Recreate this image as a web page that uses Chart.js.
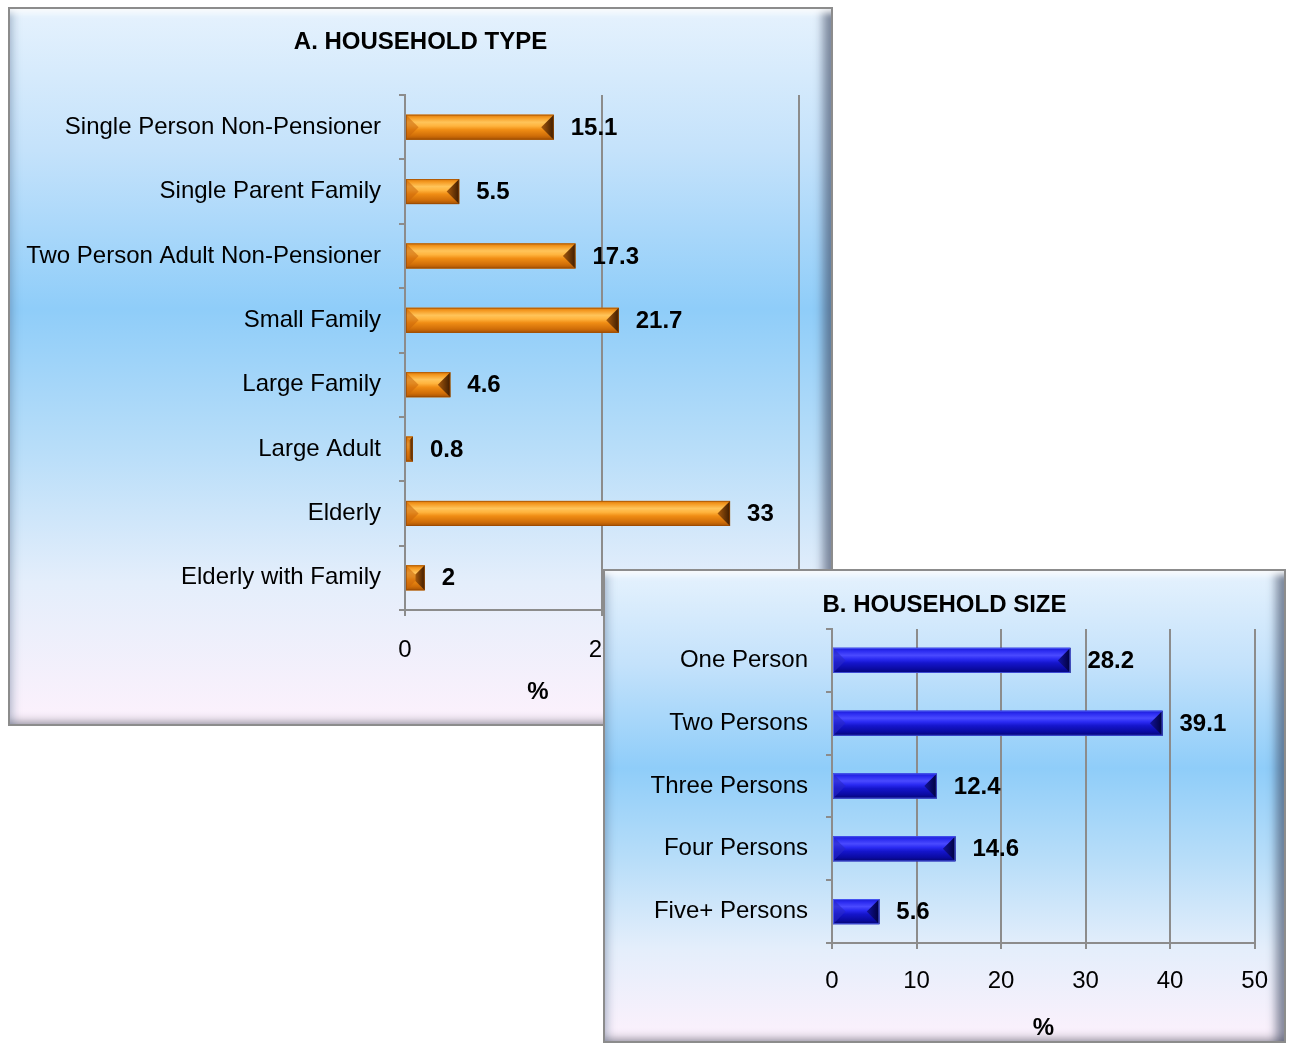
<!DOCTYPE html>
<html>
<head>
<meta charset="utf-8">
<script src="https://cdn.jsdelivr.net/npm/chart.js@4"></script>
<style>
    html, body { margin: 0; padding: 0; background: #ffffff; }
    body { width: 1290px; height: 1044px; position: relative; overflow: hidden; }
    .panel {
        position: absolute;
        background: linear-gradient(to bottom, #e6f2fd 0%, #c4e2fb 20%, #8fcdf9 42%, #b9def9 62%, #e4eefb 80%, #fdf1fc 100%);
        box-shadow:
            inset 0 0 0 2px #8c8c8c,
            inset 0 10px 6px -4px rgba(255, 255, 255, 0.9),
            inset -14px 0 10px -4px rgba(60, 70, 95, 0.6),
            inset 9px 0 8px -4px rgba(70, 95, 130, 0.35),
            inset 0 -9px 8px -4px rgba(90, 90, 105, 0.5);
    }
    #panelA { left: 8px; top: 7px; width: 825px; height: 719px; z-index: 1; }
    #panelB { left: 603px; top: 569px; width: 683px; height: 474px; z-index: 2; }
    canvas { position: absolute; left: 0; top: 0; }
</style>
</head>
<body>
<div class="panel" id="panelA"><canvas id="chartA" width="825" height="719"></canvas></div>
<div class="panel" id="panelB"><canvas id="chartB" width="683" height="474"></canvas></div>

<script>
// ========================================
// データ
// ========================================

const typeLabels = [
    'Single Person Non-Pensioner',
    'Single Parent Family',
    'Two Person Adult Non-Pensioner',
    'Small Family',
    'Large Family',
    'Large Adult',
    'Elderly',
    'Elderly with Family'
];
const typeValues = [15.1, 5.5, 17.3, 21.7, 4.6, 0.8, 33, 2];

const sizeLabels = ['One Person', 'Two Persons', 'Three Persons', 'Four Persons', 'Five+ Persons'];
const sizeValues = [28.2, 39.1, 12.4, 14.6, 5.6];

const typeAxisMax = 40;
const typeAxisStep = 20;
const sizeAxisMax = 50;
const sizeAxisStep = 10;

const FONT = '"Liberation Sans", Arial, sans-serif';
const GRID = '#8c8c8c';

// ========================================
// 面取りバー + 値ラベル プラグイン
// ========================================

const bevelBars = {
    id: 'bevelBars',
    afterDatasetsDraw(chart, args, opts) {
        const ctx = chart.ctx;
        const meta = chart.getDatasetMeta(0);
        const values = chart.data.datasets[0].data;

        meta.data.forEach((bar, i) => {
            const p = bar.getProps(['x', 'y', 'base', 'height'], true);
            const left = Math.min(p.base, p.x);
            const right = Math.max(p.base, p.x);
            const top = p.y - p.height / 2;
            const bot = p.y + p.height / 2;
            const b = Math.min(p.height / 2, (right - left) / 2);

            ctx.save();

            // 本体
            const g = ctx.createLinearGradient(0, top, 0, bot);
            opts.body.forEach(s => g.addColorStop(s[0], s[1]));
            ctx.fillStyle = g;
            ctx.fillRect(left, top, right - left, bot - top);

            // 左端
            ctx.beginPath();
            ctx.moveTo(left, top);
            ctx.lineTo(left + b, top + b);
            ctx.lineTo(left + b, bot - b);
            ctx.lineTo(left, bot);
            ctx.closePath();
            ctx.fillStyle = opts.leftCap;
            ctx.fill();

            // 右端
            const rg = ctx.createLinearGradient(right - b, 0, right, 0);
            rg.addColorStop(0, opts.rightCap[0]);
            rg.addColorStop(1, opts.rightCap[1]);
            ctx.beginPath();
            ctx.moveTo(right, top);
            ctx.lineTo(right - b, top + b);
            ctx.lineTo(right - b, bot - b);
            ctx.lineTo(right, bot);
            ctx.closePath();
            ctx.fillStyle = rg;
            ctx.fill();

            ctx.strokeStyle = opts.edge;
            ctx.lineWidth = 1;
            ctx.strokeRect(left + 0.5, top + 0.5, right - left - 1, bot - top - 1);

            // 値ラベル
            ctx.fillStyle = '#000000';
            ctx.font = 'bold 24px ' + FONT;
            ctx.textAlign = 'left';
            ctx.textBaseline = 'middle';
            ctx.fillText(String(values[i]), right + 17, p.y + 1);

            ctx.restore();
        });
    }
};

// パネルタイトルと軸の単位 (%)
const panelText = {
    id: 'panelText',
    afterDraw(chart, args, opts) {
        const ctx = chart.ctx;
        const area = chart.chartArea;
        ctx.save();
        ctx.fillStyle = '#000000';
        ctx.font = 'bold 24px ' + FONT;
        ctx.textAlign = 'center';
        ctx.textBaseline = 'middle';
        // タイトルはパネル中央
        ctx.fillText(opts.title, chart.width / 2, opts.titleY);
        ctx.fillText(opts.unit, (area.left + area.right) / 2 + opts.unitDx, area.bottom + opts.unitDy);
        ctx.restore();
    }
};

// ========================================
// チャート作成
// ========================================

function makeChart(canvasId, cfg) {
    const ctx = document.getElementById(canvasId).getContext('2d');
    return new Chart(ctx, {
        type: 'bar',
        data: {
            labels: cfg.labels,
            datasets: [{
                data: cfg.values,
                backgroundColor: cfg.color,
                borderWidth: 0,
                barPercentage: cfg.barPct,
                categoryPercentage: 1
            }]
        },
        plugins: [bevelBars, panelText],
        options: {
            indexAxis: 'y',
            responsive: false,
            animation: false,
            devicePixelRatio: 1,
            layout: {
                padding: { left: 0, right: cfg.padRight, top: cfg.padTop, bottom: 0 }
            },
            plugins: {
                legend: { display: false },
                tooltip: { enabled: false },
                title: { display: false },
                bevelBars: cfg.bevel,
                panelText: {
                    title: cfg.title,
                    titleY: cfg.titleY,
                    unit: '%',
                    unitDx: cfg.unitDx,
                    unitDy: cfg.unitDy
                }
            },
            scales: {
                x: {
                    min: 0,
                    max: cfg.max,
                    afterFit: scale => { scale.height = cfg.xHeight; },
                    ticks: {
                        stepSize: cfg.step,
                        color: '#000000',
                        padding: cfg.tickPad,
                        font: { family: FONT, size: 24 }
                    },
                    grid: { color: GRID, lineWidth: 2, tickLength: 6, tickColor: GRID },
                    border: { display: true, color: GRID, width: 2 }
                },
                y: {
                    afterFit: scale => { scale.width = cfg.yWidth; },
                    ticks: {
                        color: '#000000',
                        padding: 18,
                        font: { family: FONT, size: 24 }
                    },
                    grid: { drawOnChartArea: false, tickLength: 6, color: GRID, lineWidth: 2 },
                    border: { display: true, color: GRID, width: 2 }
                }
            }
        }
    });
}

window.addEventListener('DOMContentLoaded', () => {
    makeChart('chartA', {
        title: 'A. HOUSEHOLD TYPE',
        titleY: 35.4,
        labels: typeLabels,
        values: typeValues,
        max: typeAxisMax,
        step: typeAxisStep,
        color: '#f0900f',
        barPct: 0.39,
        padRight: 34,
        padTop: 88,
        yWidth: 397,
        xHeight: 116,
        tickPad: 20,
        unitDx: -64,
        unitDy: 82,
        bevel: {
            body: [[0, '#d9780a'], [0.12, '#f59a22'], [0.3, '#ffc45a'], [0.45, '#ffb43e'], [0.6, '#f08d14'], [0.85, '#cf6d08'], [1, '#a45204']],
            leftCap: 'rgba(200, 100, 10, 0.55)',
            rightCap: ['#a85a0c', '#3e1c00'],
            edge: 'rgba(150, 70, 0, 0.6)'
        }
    });

    makeChart('chartB', {
        title: 'B. HOUSEHOLD SIZE',
        titleY: 36.4,
        labels: sizeLabels,
        values: sizeValues,
        max: sizeAxisMax,
        step: sizeAxisStep,
        color: '#1414d2',
        barPct: 0.4,
        padRight: 31,
        padTop: 60,
        yWidth: 229,
        xHeight: 100,
        tickPad: 18,
        unitDx: 0,
        unitDy: 85,
        bevel: {
            body: [[0, '#1a1ad0'], [0.12, '#2b2bf0'], [0.3, '#4a4aff'], [0.45, '#2a2af2'], [0.6, '#1515cc'], [0.85, '#0a0aa0'], [1, '#050570']],
            leftCap: 'rgba(40, 40, 200, 0.6)',
            rightCap: ['#12129a', '#00003c'],
            edge: 'rgba(90, 110, 255, 0.7)'
        }
    });
});
</script>
</body>
</html>
